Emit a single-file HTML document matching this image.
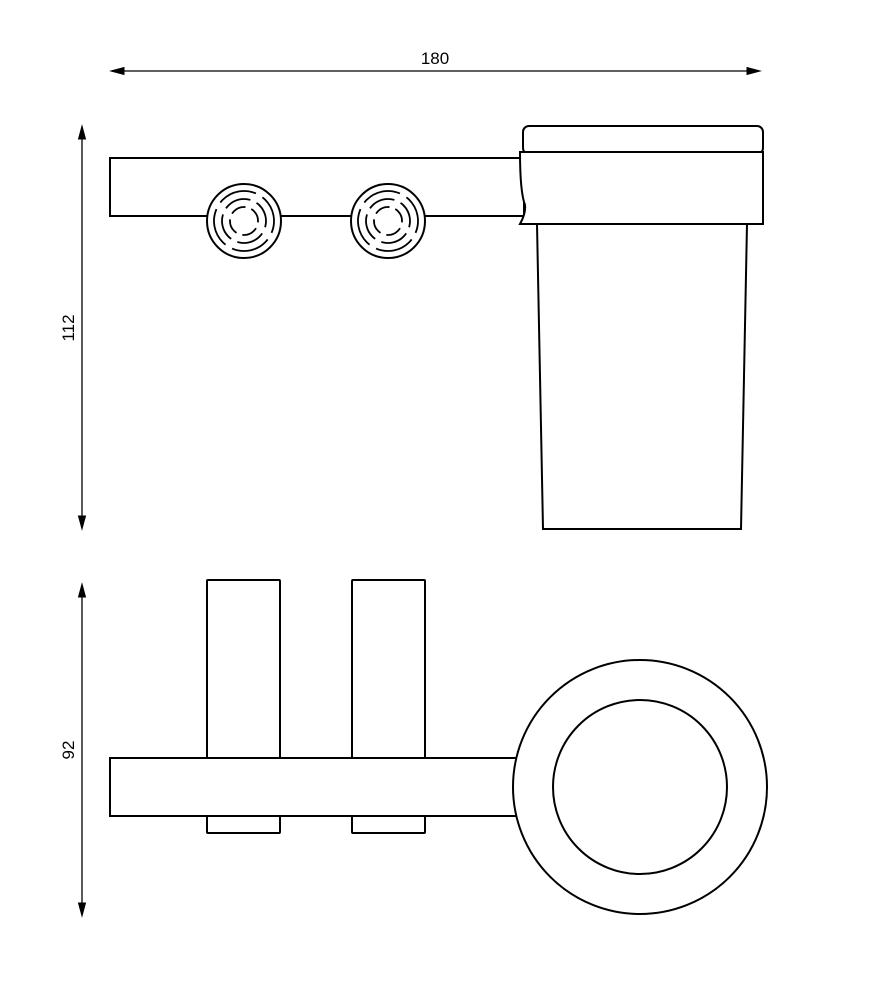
<!DOCTYPE html>
<html><head><style>body{margin:0;background:#fff}svg{display:block}</style></head><body>
<svg width="885" height="1000" viewBox="0 0 885 1000" xmlns="http://www.w3.org/2000/svg" font-family="Liberation Sans, sans-serif">
<defs>
<g id="knob">
<circle cx="0" cy="0" r="37" fill="#fff" stroke="#000" stroke-width="2"/>
<g fill="none" stroke="#000" stroke-width="1.8" transform="rotate(45)">
<circle r="30" pathLength="100" stroke-dasharray="21 4" stroke-dashoffset="2"/>
<circle r="22" pathLength="100" stroke-dasharray="20 5" stroke-dashoffset="2.5"/>
<circle r="14" pathLength="100" stroke-dasharray="18 7" stroke-dashoffset="3.5"/>
</g>
</g>
</defs>
<g stroke="#000" fill="none">
<line x1="112" y1="71" x2="758" y2="71" stroke-width="1.3"/>
<path d="M111 71 L124 67.5 L124 74.5Z M760 71 L747 67.5 L747 74.5Z" fill="#000"/>
<line x1="82" y1="128" x2="82" y2="527" stroke-width="1.3"/>
<path d="M82 126 L78.5 139 L85.5 139Z M82 529 L78.5 516 L85.5 516Z" fill="#000"/>
<line x1="82" y1="586" x2="82" y2="914" stroke-width="1.3"/>
<path d="M82 584 L78.5 597 L85.5 597Z M82 916 L78.5 903 L85.5 903Z" fill="#000"/>
</g>
<text x="435" y="64" font-size="17" text-anchor="middle">180</text>
<text transform="translate(74,328) rotate(-90)" font-size="17" text-anchor="middle">112</text>
<text transform="translate(74,750) rotate(-90)" font-size="17" text-anchor="middle">92</text>
<g stroke="#000" stroke-width="2" fill="#fff">
<rect x="110" y="158" width="414" height="58"/>
<rect x="523" y="126" width="240" height="28" rx="6"/>
<path d="M537 224 L543 529 L741 529 L747 224Z"/>
<path d="M520 152 L763 152 L763 224 L520 224 Q526 213 525 205 Q520 192 520 152Z"/>
</g>
<use href="#knob" x="244" y="221"/>
<use href="#knob" x="388" y="221"/>
<g stroke="#000" stroke-width="2" fill="#fff">
<rect x="207" y="580" width="73" height="253" rx="1"/>
<rect x="352" y="580" width="73" height="253" rx="1"/>
<rect x="110" y="758" width="410" height="58"/>
<circle cx="640" cy="787" r="127"/>
<circle cx="640" cy="787" r="87"/>
</g>
</svg>
</body></html>
